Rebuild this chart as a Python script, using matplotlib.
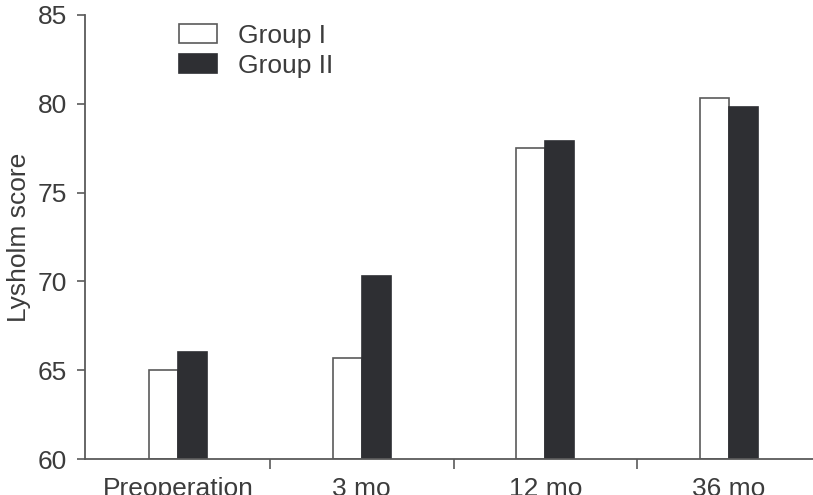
import numpy as np
import matplotlib
matplotlib.use("Agg")
from matplotlib import pyplot as plt

plt.rcParams['font.family'] = ['Liberation Sans', 'DejaVu Sans']

# data
categories = ["Preoperation", "3 mo", "12 mo", "36 mo"]
group1 = [65.0, 65.7, 77.5, 80.3]
group2 = [66.0, 70.3, 77.9, 79.8]

axis_col = "#5a5a5a"
txt_col = "#3c3c3c"
dark = "#2e2f33"
w = 0.158
fs = 19

fig = plt.figure(figsize=(8.13, 4.95), dpi=100)
ax = fig.add_axes([0.1046, 0.0727, 0.8954, 0.897])

x = np.arange(len(categories))
ax.bar(x - w/2, np.array(group1) - 60, w, bottom=60, color="white",
       edgecolor=axis_col, linewidth=1.2, label="Group I")
ax.bar(x + w/2, np.array(group2) - 60, w, bottom=60, color=dark,
       edgecolor=dark, linewidth=1.2, label="Group II")

ax.set_ylim(60, 85)
ax.set_xlim(-0.506, 3.457)
ax.set_yticks([60, 65, 70, 75, 80, 85])

# major ticks between groups, labels at group centres
ax.set_xticks([0.5, 1.5, 2.5])
ax.set_xticklabels([])
ax.set_xticks(x, minor=True)
ax.set_xticklabels(categories, minor=True)
ax.tick_params(axis='x', which='major', direction='out', length=7,
               width=1.2, color=axis_col)
ax.tick_params(axis='x', which='minor', length=0, pad=13, labelsize=fs,
               labelcolor=txt_col)
ax.tick_params(axis='y', direction='out', length=6, width=1.2,
               color=axis_col, labelsize=fs, labelcolor=txt_col, pad=7)

for s in ['top', 'right']:
    ax.spines[s].set_visible(False)
for s in ['left', 'bottom']:
    ax.spines[s].set_color(axis_col)
    ax.spines[s].set_linewidth(1.3)

ax.set_ylabel("Lysholm score", fontsize=fs, color=txt_col, labelpad=5)

leg = ax.legend(loc='upper left', bbox_to_anchor=(0.104, 1.022), frameon=False,
                fontsize=fs, handlelength=1.44, handleheight=0.76,
                handletextpad=0.8, labelspacing=0.22, borderpad=0.2)
for t in leg.get_texts():
    t.set_color(txt_col)

fig.savefig("out.png", dpi=100)
